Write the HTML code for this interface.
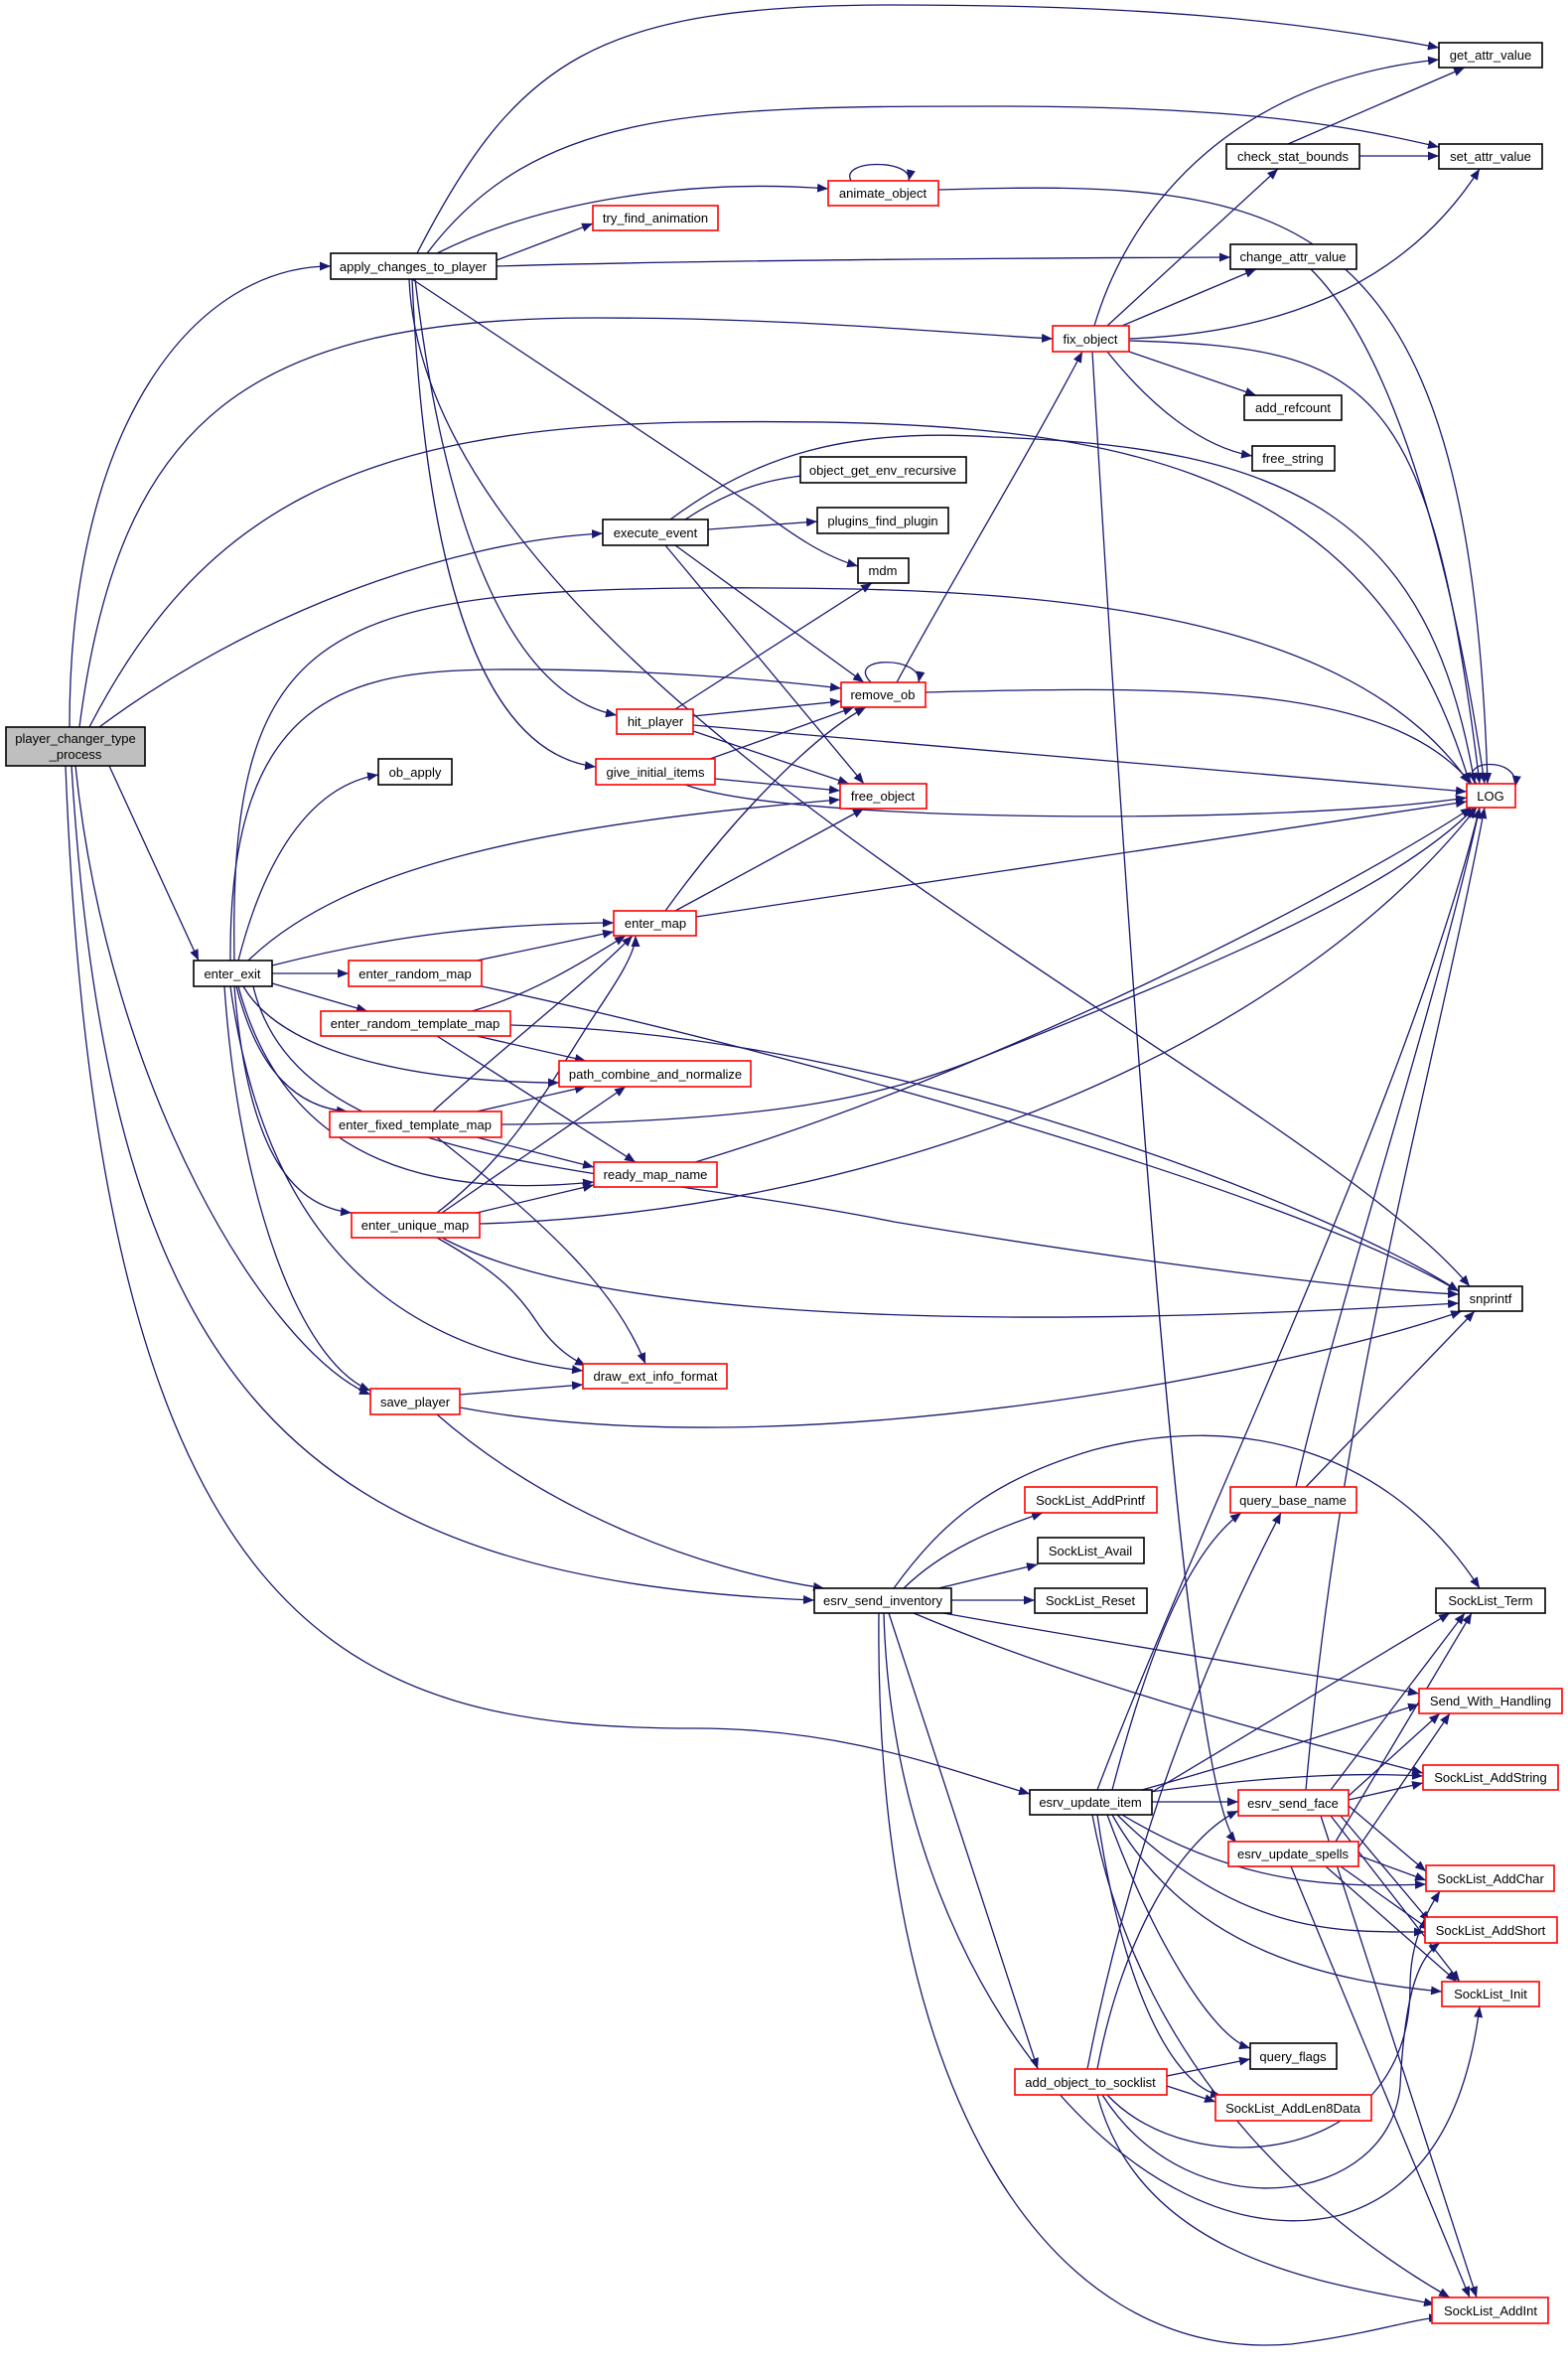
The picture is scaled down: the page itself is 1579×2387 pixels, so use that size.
<!DOCTYPE html>
<html><head><meta charset="utf-8">
<style>
html,body{margin:0;padding:0;background:#fff;}
svg{display:block;}
text{font-family:"Liberation Sans",sans-serif;font-size:13px;fill:#000;}
.e{fill:none;stroke:#191970;stroke-width:1.3;}
.n{fill:#fff;stroke:#000;stroke-width:1.6;}
.r{fill:#fff;stroke:#ff0000;stroke-width:1.6;}
</style></head><body>
<svg width="1579" height="2387" viewBox="0 0 1579 2387" xmlns="http://www.w3.org/2000/svg">
<defs><marker id="a" markerUnits="userSpaceOnUse" markerWidth="12" markerHeight="9" refX="11" refY="4.5" orient="auto"><path d="M0,0 L11,4.5 L0,9 z" fill="#191970"/></marker></defs>
<g class="e" marker-end="url(#a)">
<path d="M70 732 C70 420 200 268 333 268"/>
<path d="M80 732 C120 420 250 320 600 320 C800 320 950 335 1060 341"/>
<path d="M90 732 C200 520 350 430 700 425 C1100 420 1380 450 1480 789"/>
<path d="M100 732 C250 620 450 545 607 537"/>
<path d="M110 771 L200 967"/>
<path d="M76 771 C110 1100 270 1360 373 1404"/>
<path d="M72 771 C110 1400 300 1590 820 1611"/>
<path d="M66 771 C100 1650 350 1740 700 1740 C850 1740 950 1780 1037 1806"/>
<path d="M420 255 C520 60 600 5 900 5 C1150 5 1300 20 1449 48"/>
<path d="M430 255 C540 110 700 107 1000 107 C1250 107 1350 125 1449 148"/>
<path d="M440 255 C550 200 700 180 834 190"/>
<path d="M500 262 L597 225"/>
<path d="M500 268 C700 262 1000 260 1239 259"/>
<path d="M415 281 L760 510 C800 540 830 560 864 570"/>
<path d="M415 281 C430 620 500 760 600 772"/>
<path d="M418 281 C450 550 520 700 621 720"/>
<path d="M412 281 C430 700 1300 1080 1480 1295"/>
<path d="M857 182 C845 160 920 160 915 182"/>
<path d="M945 191 C1300 180 1480 200 1498 789"/>
<path d="M1297 145 L1475 68"/>
<path d="M1369 157 L1449 157"/>
<path d="M1320 271 C1400 350 1460 550 1495 789"/>
<path d="M1102 328 C1140 200 1250 80 1449 60"/>
<path d="M1115 328 L1287 170"/>
<path d="M1130 328 L1265 271"/>
<path d="M1137 341 C1300 335 1420 280 1490 170"/>
<path d="M1137 354 L1265 398"/>
<path d="M1115 354 C1160 410 1210 450 1261 459"/>
<path d="M1137 343 C1380 350 1440 380 1490 789"/>
<path d="M1100 354 C1150 1200 1200 1800 1245 1855"/>
<path d="M690 523 C740 490 780 480 830 477"/>
<path d="M713 533 L823 525"/>
<path d="M675 523 C760 460 850 430 1000 440 C1300 450 1440 520 1485 789"/>
<path d="M680 549 L870 687"/>
<path d="M670 549 L870 789"/>
<path d="M877 687 C850 660 930 660 925 687"/>
<path d="M903 687 C950 600 1040 450 1090 354"/>
<path d="M932 697 C1200 690 1400 690 1482 789"/>
<path d="M680 714 L878 587"/>
<path d="M698 721 L847 706"/>
<path d="M698 736 L855 789"/>
<path d="M698 730 L1477 797"/>
<path d="M715 764 L860 712"/>
<path d="M720 784 L846 796"/>
<path d="M690 790 C800 830 1300 830 1477 803"/>
<path d="M232 967 C230 700 350 675 500 674 C650 673 780 685 847 693"/>
<path d="M240 967 C270 850 320 790 381 780"/>
<path d="M236 967 C230 640 320 595 700 592 C1000 590 1350 600 1480 789"/>
<path d="M250 967 C350 870 550 830 846 805"/>
<path d="M274 972 C400 940 500 930 618 929"/>
<path d="M274 980 L351 980"/>
<path d="M274 990 L370 1018"/>
<path d="M245 993 C290 1070 450 1090 563 1090"/>
<path d="M238 993 C260 1080 300 1115 350 1119"/>
<path d="M240 993 C290 1180 450 1205 598 1190"/>
<path d="M236 993 C250 1170 300 1215 354 1221"/>
<path d="M232 993 C270 1270 420 1360 587 1380"/>
<path d="M226 993 C240 1200 300 1370 373 1400"/>
<path d="M255 993 C300 1180 600 1170 900 1230 C1200 1280 1400 1300 1469 1303"/>
<path d="M670 917 C740 820 820 740 872 712"/>
<path d="M680 917 L870 814"/>
<path d="M701 923 L1477 807"/>
<path d="M480 967 L618 938"/>
<path d="M485 993 C800 1060 1300 1200 1469 1300"/>
<path d="M475 1018 C540 1000 600 960 630 942"/>
<path d="M480 1043 L590 1068"/>
<path d="M440 1043 L640 1170"/>
<path d="M514 1032 C900 1040 1350 1220 1469 1300"/>
<path d="M436 1119 C500 1060 590 990 637 942"/>
<path d="M480 1119 L590 1094"/>
<path d="M480 1145 L598 1175"/>
<path d="M440 1145 C560 1240 620 1300 650 1373"/>
<path d="M505 1132 C800 1130 900 1100 1000 1060 C1200 980 1400 900 1485 813"/>
<path d="M440 1221 C520 1160 560 1080 600 1020 C620 990 640 960 640 942"/>
<path d="M445 1221 L630 1094"/>
<path d="M480 1221 L598 1193"/>
<path d="M440 1246 C500 1280 520 1300 540 1330 C560 1360 580 1370 590 1375"/>
<path d="M445 1246 C600 1330 1000 1340 1469 1312"/>
<path d="M483 1232 C900 1220 1300 1050 1487 813"/>
<path d="M700 1170 C1000 1080 1350 900 1482 813"/>
<path d="M463 1404 L587 1394"/>
<path d="M463 1417 C800 1480 1300 1380 1472 1320"/>
<path d="M440 1424 C550 1520 700 1580 830 1599"/>
<path d="M1487 789 C1465 765 1530 760 1526 792"/>
<path d="M1305 1497 C1350 1300 1450 1000 1490 813"/>
<path d="M1315 1497 L1485 1320"/>
<path d="M910 1599 C950 1560 1000 1540 1050 1523"/>
<path d="M945 1599 L1045 1575"/>
<path d="M958 1611 L1042 1611"/>
<path d="M900 1599 C950 1530 1000 1490 1100 1460 C1250 1420 1400 1460 1490 1599"/>
<path d="M950 1624 C1150 1660 1350 1690 1429 1705"/>
<path d="M920 1624 C1100 1700 1300 1750 1433 1785"/>
<path d="M895 1624 L1045 2083"/>
<path d="M890 1624 C900 2000 1150 2280 1350 2230 C1450 2200 1480 2100 1490 2020"/>
<path d="M885 1624 C880 2100 1050 2380 1300 2360 C1380 2350 1420 2335 1450 2333"/>
<path d="M1120 1802 C1160 1650 1200 1560 1250 1523"/>
<path d="M1105 1802 C1200 1550 1420 1100 1490 813"/>
<path d="M1160 1804 L1460 1624"/>
<path d="M1150 1802 C1300 1760 1380 1730 1429 1716"/>
<path d="M1150 1805 C1300 1785 1380 1785 1433 1788"/>
<path d="M1160 1814 L1247 1814"/>
<path d="M1130 1827 C1250 1900 1350 1900 1436 1897"/>
<path d="M1125 1827 C1250 1950 1350 1945 1435 1945"/>
<path d="M1120 1827 C1200 1970 1350 1995 1452 2005"/>
<path d="M1115 1827 C1160 1950 1220 2050 1259 2062"/>
<path d="M1105 1827 C1130 2000 1180 2100 1230 2110"/>
<path d="M1100 1827 C1150 2100 1350 2250 1460 2313"/>
<path d="M1340 1802 L1475 1624"/>
<path d="M1358 1808 L1450 1725"/>
<path d="M1358 1812 L1433 1795"/>
<path d="M1358 1818 L1436 1884"/>
<path d="M1350 1828 L1440 1935"/>
<path d="M1340 1828 L1470 1995"/>
<path d="M1330 1828 L1487 2313"/>
<path d="M1315 1802 C1350 1400 1440 1100 1495 813"/>
<path d="M1345 1854 L1482 1624"/>
<path d="M1368 1860 L1460 1725"/>
<path d="M1368 1868 L1436 1893"/>
<path d="M1350 1879 L1440 1943"/>
<path d="M1335 1879 L1467 1995"/>
<path d="M1300 1879 L1480 2313"/>
<path d="M1175 2090 L1259 2073"/>
<path d="M1175 2100 L1224 2116"/>
<path d="M1105 2083 C1130 1950 1190 1850 1247 1823"/>
<path d="M1095 2083 C1150 1800 1250 1600 1290 1523"/>
<path d="M1115 2109 C1200 2200 1420 2180 1420 2000 C1420 1950 1440 1920 1450 1904"/>
<path d="M1110 2109 C1200 2250 1400 2220 1410 2100 C1415 2000 1430 1970 1450 1956"/>
<path d="M1105 2109 C1150 2280 1350 2300 1445 2320"/>
</g>
<g text-anchor="middle">
<rect x="6" y="732" width="140" height="39" fill="#bfbfbf" stroke="#000" stroke-width="1.6"/>
<text x="76" y="748">player_changer_type</text><text x="76" y="764">_process</text>
<rect class="n" x="333" y="255" width="167" height="26"/><text x="416" y="273">apply_changes_to_player</text>
<rect class="r" x="834" y="182" width="111" height="25"/><text x="889" y="199">animate_object</text>
<rect class="r" x="597" y="207" width="126" height="25"/><text x="660" y="224">try_find_animation</text>
<rect class="n" x="1449" y="43" width="104" height="25"/><text x="1501" y="60">get_attr_value</text>
<rect class="n" x="1449" y="145" width="104" height="25"/><text x="1501" y="162">set_attr_value</text>
<rect class="n" x="1235" y="145" width="134" height="25"/><text x="1302" y="162">check_stat_bounds</text>
<rect class="n" x="1239" y="246" width="127" height="25"/><text x="1302" y="263">change_attr_value</text>
<rect class="r" x="1060" y="328" width="77" height="26"/><text x="1098" y="346">fix_object</text>
<rect class="n" x="1253" y="398" width="98" height="25"/><text x="1302" y="415">add_refcount</text>
<rect class="n" x="1261" y="449" width="83" height="25"/><text x="1302" y="466">free_string</text>
<rect class="r" x="1477" y="789" width="49" height="24"/><text x="1501" y="806">LOG</text>
<rect class="n" x="806" y="460" width="167" height="26"/><text x="889" y="478">object_get_env_recursive</text>
<rect class="n" x="823" y="511" width="132" height="26"/><text x="889" y="529">plugins_find_plugin</text>
<rect class="n" x="864" y="562" width="51" height="25"/><text x="889" y="579">mdm</text>
<rect class="n" x="607" y="523" width="106" height="26"/><text x="660" y="541">execute_event</text>
<rect class="r" x="847" y="687" width="85" height="25"/><text x="889" y="704">remove_ob</text>
<rect class="r" x="621" y="714" width="77" height="25"/><text x="660" y="731">hit_player</text>
<rect class="r" x="600" y="764" width="120" height="26"/><text x="660" y="782">give_initial_items</text>
<rect class="r" x="846" y="789" width="87" height="25"/><text x="889" y="806">free_object</text>
<rect class="n" x="381" y="764" width="74" height="26"/><text x="418" y="782">ob_apply</text>
<rect class="n" x="195" y="967" width="79" height="26"/><text x="234" y="985">enter_exit</text>
<rect class="r" x="351" y="967" width="134" height="26"/><text x="418" y="985">enter_random_map</text>
<rect class="r" x="618" y="917" width="83" height="25"/><text x="660" y="934">enter_map</text>
<rect class="r" x="323" y="1018" width="191" height="25"/><text x="418" y="1035">enter_random_template_map</text>
<rect class="r" x="563" y="1068" width="193" height="26"/><text x="660" y="1086">path_combine_and_normalize</text>
<rect class="r" x="332" y="1119" width="173" height="26"/><text x="418" y="1137">enter_fixed_template_map</text>
<rect class="r" x="598" y="1170" width="124" height="25"/><text x="660" y="1187">ready_map_name</text>
<rect class="r" x="354" y="1221" width="129" height="25"/><text x="418" y="1238">enter_unique_map</text>
<rect class="n" x="1469" y="1295" width="64" height="25"/><text x="1501" y="1312">snprintf</text>
<rect class="r" x="587" y="1373" width="145" height="25"/><text x="660" y="1390">draw_ext_info_format</text>
<rect class="r" x="373" y="1398" width="90" height="26"/><text x="418" y="1416">save_player</text>
<rect class="r" x="1032" y="1497" width="133" height="26"/><text x="1098" y="1515">SockList_AddPrintf</text>
<rect class="r" x="1239" y="1497" width="127" height="26"/><text x="1302" y="1515">query_base_name</text>
<rect class="n" x="1045" y="1548" width="107" height="26"/><text x="1098" y="1566">SockList_Avail</text>
<rect class="n" x="1042" y="1599" width="113" height="25"/><text x="1098" y="1616">SockList_Reset</text>
<rect class="n" x="820" y="1599" width="138" height="25"/><text x="889" y="1616">esrv_send_inventory</text>
<rect class="n" x="1446" y="1599" width="110" height="25"/><text x="1501" y="1616">SockList_Term</text>
<rect class="r" x="1429" y="1700" width="144" height="25"/><text x="1501" y="1717">Send_With_Handling</text>
<rect class="r" x="1433" y="1777" width="136" height="25"/><text x="1501" y="1794">SockList_AddString</text>
<rect class="n" x="1037" y="1802" width="123" height="25"/><text x="1098" y="1819">esrv_update_item</text>
<rect class="r" x="1247" y="1802" width="111" height="26"/><text x="1302" y="1820">esrv_send_face</text>
<rect class="r" x="1237" y="1854" width="131" height="25"/><text x="1302" y="1871">esrv_update_spells</text>
<rect class="r" x="1436" y="1878" width="129" height="26"/><text x="1501" y="1896">SockList_AddChar</text>
<rect class="r" x="1435" y="1930" width="133" height="26"/><text x="1501" y="1948">SockList_AddShort</text>
<rect class="r" x="1452" y="1995" width="98" height="25"/><text x="1501" y="2012">SockList_Init</text>
<rect class="n" x="1259" y="2057" width="87" height="26"/><text x="1302" y="2075">query_flags</text>
<rect class="r" x="1022" y="2083" width="153" height="26"/><text x="1098" y="2101">add_object_to_socklist</text>
<rect class="r" x="1224" y="2109" width="157" height="26"/><text x="1302" y="2127">SockList_AddLen8Data</text>
<rect class="r" x="1442" y="2313" width="117" height="26"/><text x="1501" y="2331">SockList_AddInt</text>
</g>
</svg>
</body></html>
